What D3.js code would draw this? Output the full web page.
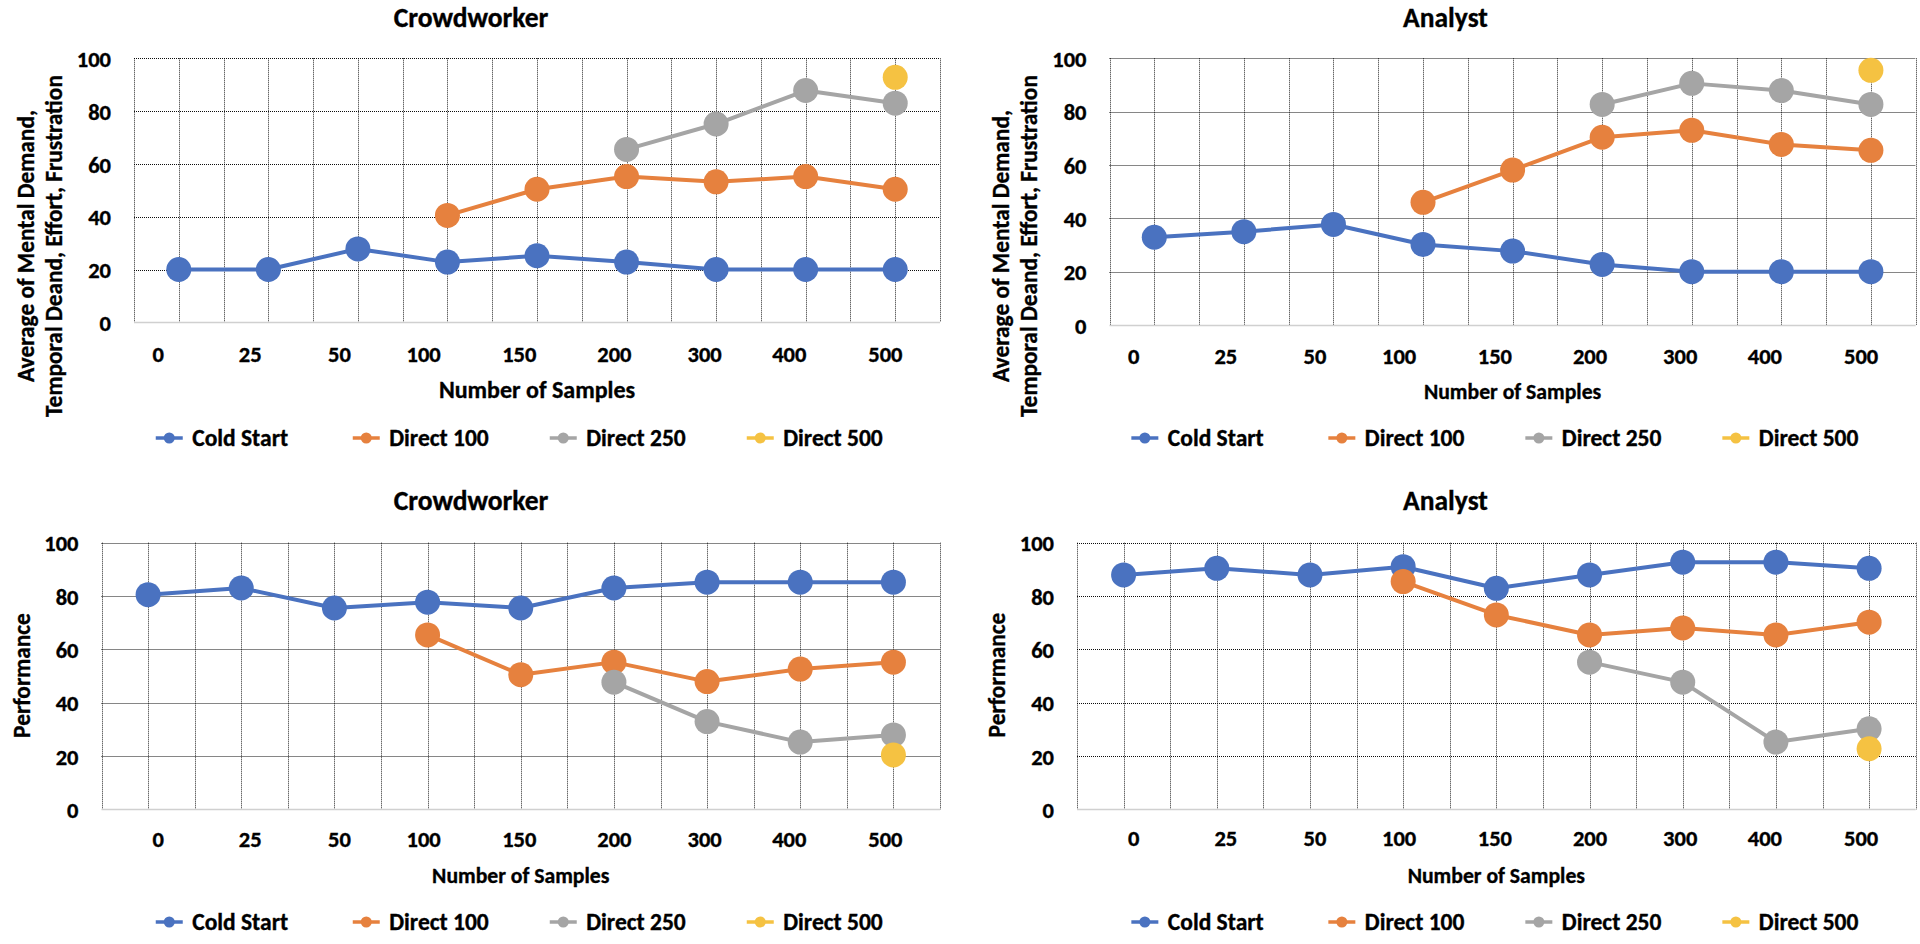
<!DOCTYPE html>
<html>
<head>
<meta charset="utf-8">
<script src="https://cdn.jsdelivr.net/npm/d3@7"></script>
<style>
html, body { margin: 0; padding: 0; background: #ffffff; }
svg text { font-family: Carlito, Calibri, Lato, "Open Sans", sans-serif; font-weight: 700; fill: #000;
  stroke: #000; stroke-width: 0.35px; paint-order: stroke; }
</style>
</head>
<body>
<svg id="chart" width="1920" height="944"></svg>
<script>
// ---------- data ----------
const categories = ["0", "25", "50", "100", "150", "200", "300", "400", "500"];
const seriesNames = ["Cold Start", "Direct 100", "Direct 250", "Direct 500"];
const seriesColors = ["#4A72C0", "#E6813E", "#A5A5A5", "#F5C242"];
const yTickValues = [0, 20, 40, 60, 80, 100];
const panelTitles = ["Crowdworker", "Analyst", "Crowdworker", "Analyst"];
const workloadAxisTitle = ["Average of Mental Demand,", "Temporal Deand, Effort, Frustration"];
const performanceAxisTitle = ["Performance"];
const xAxisTitle = "Number of Samples";

// Workload (TLX average) – Crowdworker
const workloadCrowdColdStart = [20, 20, 27.8, 22.8, 25.2, 22.8, 20, 20, 20];
const workloadCrowdDirect100 = [null, null, null, 40.5, 50.4, 55.2, 53.2, 55.2, 50.4];
const workloadCrowdDirect250 = [null, null, null, null, null, 65.5, 75.1, 87.8, 83];
const workloadCrowdDirect500 = [null, null, null, null, null, null, null, null, 92.8];

// Workload (TLX average) – Analyst
const workloadAnalystColdStart = [32.9, 35, 37.7, 30.2, 27.7, 22.7, 20, 20, 20];
const workloadAnalystDirect100 = [null, null, null, 46, 58.1, 70.4, 73, 67.7, 65.5];
const workloadAnalystDirect250 = [null, null, null, null, null, 82.7, 90.6, 87.9, 82.7];
const workloadAnalystDirect500 = [null, null, null, null, null, null, null, null, 95.5];

// Performance – Crowdworker
const perfCrowdColdStart = [80.5, 83, 75.5, 77.7, 75.5, 83, 85.2, 85.2, 85.2];
const perfCrowdDirect100 = [null, null, null, 65.4, 50.5, 55.2, 47.9, 52.6, 55.2];
const perfCrowdDirect250 = [null, null, null, null, null, 47.7, 32.9, 25.2, 27.9];
const perfCrowdDirect500 = [null, null, null, null, null, null, null, null, 20.4];

// Performance – Analyst
const perfAnalystColdStart = [87.9, 90.4, 87.9, 91, 82.9, 87.9, 92.7, 92.7, 90.4];
const perfAnalystDirect100 = [null, null, null, 85.4, 72.9, 65.4, 68, 65.4, 70.2];
const perfAnalystDirect250 = [null, null, null, null, null, 55.2, 47.7, 25.2, 30.2];
const perfAnalystDirect500 = [null, null, null, null, null, null, null, null, 22.7];

// ---------- layout (styling only) ----------
const xLabelNudge = [10, 9, 5, -4, -1.5, 0.5, -2.5, -11, -8];
const panels = [
  { title: panelTitles[0], yTitle: workloadAxisTitle,
    series: [workloadCrowdColdStart, workloadCrowdDirect100, workloadCrowdDirect250, workloadCrowdDirect500],
    titleCX: 471, titleBase: 26.5, plot: { l: 134, r: 940, t: 58.3, b: 322.3 }, labelRange: [101.5, 940],
    yTitleX: 26, yTitleCY: 246, xLabelPad: 24, xTitleCY: 389, xTitleSize: 24, legendCY: 438 },
  { title: panelTitles[1], yTitle: workloadAxisTitle,
    series: [workloadAnalystColdStart, workloadAnalystDirect100, workloadAnalystDirect250, workloadAnalystDirect500],
    titleCX: 1445.5, titleBase: 26.5, plot: { l: 1109.5, r: 1915.7, t: 58.3, b: 325 }, labelRange: [1077, 1915.7],
    yTitleX: 1001, yTitleCY: 246, xLabelPad: 23, xTitleCY: 391.7, xTitleSize: 21.7, legendCY: 438 },
  { title: panelTitles[2], yTitle: performanceAxisTitle,
    series: [perfCrowdColdStart, perfCrowdDirect100, perfCrowdDirect250, perfCrowdDirect500],
    titleCX: 471, titleBase: 510, plot: { l: 101.5, r: 940, t: 542.7, b: 809.3 }, labelRange: [101.5, 940],
    yTitleX: 21.5, yTitleCY: 675.5, xLabelPad: 21.5, xTitleCY: 875, xTitleSize: 21.7, legendCY: 922 },
  { title: panelTitles[3], yTitle: performanceAxisTitle,
    series: [perfAnalystColdStart, perfAnalystDirect100, perfAnalystDirect250, perfAnalystDirect500],
    titleCX: 1445.5, titleBase: 510, plot: { l: 1077, r: 1915.7, t: 542.7, b: 809.3 }, labelRange: [1077, 1915.7],
    yTitleX: 997, yTitleCY: 675, xLabelPad: 21, xTitleCY: 875, xTitleSize: 21.7, legendCY: 922 }
];

const svg = d3.select("#chart");
const snap = v => Math.round(v) + 0.5;

panels.forEach(p => {
  const g = svg.append("g");
  const x = d3.scaleBand().domain(categories).range([p.plot.l, p.plot.r]);
  const xLabel = d3.scaleBand().domain(categories).range(p.labelRange);
  const y = d3.scaleLinear().domain([0, 100]).range([p.plot.b, p.plot.t]);
  const half = x.step() / 2;

  // vertical gridlines (category centers and boundaries)
  const vLines = [];
  categories.forEach(c => { vLines.push(x(c)); vLines.push(x(c) + half); });
  vLines.push(p.plot.r);
  g.append("g").selectAll("line").data(vLines).join("line")
    .attr("x1", d => snap(d)).attr("x2", d => snap(d))
    .attr("y1", y(100)).attr("y2", y(0))
    .attr("stroke", "#000").attr("stroke-opacity", 0.85)
    .attr("stroke-width", 1).attr("stroke-dasharray", "1,1");

  // horizontal gridlines
  g.append("g").selectAll("line").data(yTickValues.filter(v => v > 0)).join("line")
    .attr("x1", p.plot.l).attr("x2", p.plot.r)
    .attr("y1", d => snap(y(d))).attr("y2", d => snap(y(d)))
    .attr("stroke", "#000").attr("stroke-opacity", 0.95)
    .attr("stroke-width", 1).attr("stroke-dasharray", "1,1");

  // baseline
  g.append("line")
    .attr("x1", p.plot.l).attr("x2", p.plot.r)
    .attr("y1", snap(y(0))).attr("y2", snap(y(0)))
    .attr("stroke", "#D0D0D0").attr("stroke-width", 1.5);

  // y axis labels
  const yAxis = g.append("g").attr("transform", `translate(${p.plot.l},0)`)
    .call(d3.axisLeft(y).tickValues(yTickValues).tickSize(0).tickPadding(23));
  yAxis.select(".domain").remove();
  yAxis.selectAll("text").style("font-size", "22.5px").attr("dy", "0.36em");

  // x axis labels
  const xAxis = g.append("g").attr("transform", `translate(0,${y(0)})`)
    .call(d3.axisBottom(xLabel).tickSize(0).tickPadding(p.xLabelPad));
  xAxis.select(".domain").remove();
  xAxis.selectAll("text").style("font-size", "22.5px")
    .attr("dx", (d, i) => xLabelNudge[i]);

  // title
  g.append("text").attr("x", p.titleCX).attr("y", p.titleBase)
    .attr("text-anchor", "middle").style("font-size", "27.5px").text(p.title);

  // x axis title
  g.append("text").attr("x", (p.plot.l + p.plot.r) / 2).attr("y", p.xTitleCY)
    .attr("text-anchor", "middle").attr("dominant-baseline", "central")
    .style("font-size", p.xTitleSize + "px").text(xAxisTitle);

  // y axis title
  const yt = g.append("g").attr("transform", `translate(${p.yTitleX},${p.yTitleCY}) rotate(-90)`);
  p.yTitle.forEach((line, i) => {
    yt.append("text").attr("x", 0).attr("y", i * 28)
      .attr("text-anchor", "middle").attr("dominant-baseline", "central")
      .style("font-size", "23.4px").text(line);
  });

  // series
  const lineGen = d3.line().defined(d => d.v != null)
    .x(d => x(d.c) + half).y(d => y(d.v));
  p.series.forEach((vals, si) => {
    const pts = categories.map((c, i) => ({ c, v: vals[i] }));
    const sg = g.append("g");
    sg.append("path").datum(pts).attr("d", lineGen)
      .attr("fill", "none").attr("stroke", seriesColors[si])
      .attr("stroke-width", 4).attr("stroke-linejoin", "round");
    sg.selectAll("circle").data(pts.filter(d => d.v != null)).join("circle")
      .attr("cx", d => x(d.c) + half).attr("cy", d => y(d.v))
      .attr("r", 12.5).attr("fill", seriesColors[si]);
  });

  // legend
  const lc = (p.labelRange[0] + p.labelRange[1]) / 2;
  const step = 197;
  const lg = g.append("g").attr("transform", `translate(${lc - 365},${p.legendCY})`);
  seriesNames.forEach((name, i) => {
    const it = lg.append("g").attr("transform", `translate(${i * step},0)`);
    it.append("line").attr("x1", 0).attr("x2", 27).attr("y1", 0).attr("y2", 0)
      .attr("stroke", seriesColors[i]).attr("stroke-width", 3.5);
    it.append("circle").attr("cx", 13.5).attr("cy", 0).attr("r", 5.5).attr("fill", seriesColors[i]);
    it.append("text").attr("x", 36.5).attr("y", 0).attr("dominant-baseline", "central")
      .style("font-size", "23.5px").text(name);
  });
});
</script>
</body>
</html>
